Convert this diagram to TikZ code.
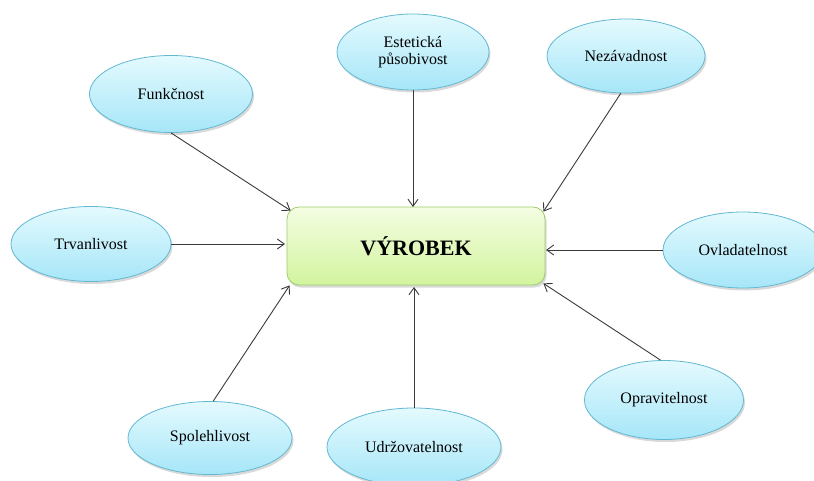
\documentclass[tikz,border=0pt]{standalone}
\usepackage{fontspec}
\setmainfont{Liberation Serif}
\usetikzlibrary{shapes.geometric,arrows.meta,shadows,calc}

\definecolor{elltop}{HTML}{E4FAFE}
\definecolor{ellbot}{HTML}{A6E6F8}
\definecolor{elledge}{HTML}{62B8D2}
\definecolor{boxtop}{HTML}{F4FDE2}
\definecolor{boxbot}{HTML}{D2F49E}
\definecolor{boxedge}{HTML}{9ECB6C}
\definecolor{linkcol}{HTML}{3A3A3A}

\tikzset{
  quality/.style={ellipse, draw=elledge, line width=0.8pt,
    top color=elltop, bottom color=ellbot,
    minimum width=160pt, minimum height=76pt, inner sep=0pt,
    align=center, font=\fontsize{16}{17}\selectfont,
    drop shadow={opacity=0.3, shadow xshift=1.5pt, shadow yshift=-2.5pt}},
  product/.style={rectangle, rounded corners=12pt, draw=boxedge, line width=0.8pt,
    top color=boxtop, bottom color=boxbot,
    minimum width=258pt, minimum height=78pt, inner sep=0pt,
    font=\fontsize{22}{24}\selectfont\bfseries,
    drop shadow={opacity=0.3, shadow xshift=1.5pt, shadow yshift=-2.5pt}},
  link/.style={draw=linkcol, line width=0.9pt,
    -{Straight Barb[length=7pt, width=10pt, line width=0.9pt]}}
}

\begin{document}
\begin{tikzpicture}[x=1pt, y=1pt]
  \useasboundingbox (0,0) rectangle (814,480);
  \clip (0,0) rectangle (814,480);

  % central box
  \node[product] (box) at (416,234) {VÝROBEK};

  % surrounding qualities
  \node[quality, minimum width=163pt, minimum height=77pt] (funk)  at (171,386) {Funkčnost};
  \node[quality, minimum width=152pt] (estet) at (413,428) {Estetická\\působivost};
  \node[quality, minimum width=158pt, minimum height=74pt] (nez)   at (626,424) {Nezávadnost};
  \node[quality, minimum height=75pt] (trv)   at (91,236)  {Trvanlivost};
  \node[quality] (ovl)   at (743,230) {Ovladatelnost};
  \node[quality, minimum width=159pt, minimum height=79pt] (opr)   at (664,80)  {Opravitelnost};
  \node[quality, minimum width=174pt, minimum height=78pt] (udr)   at (414,33)  {Udržovatelnost};
  \node[quality, minimum width=164pt, minimum height=73pt] (spol)  at (210,42)  {Spolehlivost};

  % arrow targets on the box
  \coordinate (tFunk)  at ($(box.north west)+(4,-4)$);
  \coordinate (tEstet) at (413,273);
  \coordinate (tNez)   at ($(box.north east)+(-2,-5)$);
  \coordinate (tTrv)   at (285,236);
  \coordinate (tOvl)   at (546,230);
  \coordinate (tOpr)   at ($(box.south east)+(-2,2)$);
  \coordinate (tUdr)   at (414,193);
  \coordinate (tSpol)  at ($(box.south west)+(3,0)$);

  % connectors
  \draw[link] (funk.south) -- (tFunk);
  \draw[link] (estet.south) -- (tEstet);
  \draw[link] (nez.262) -- (tNez);
  \draw[link] (trv.east) -- (tTrv);
  \draw[link] (ovl.west) -- (tOvl);
  \draw[link] (opr.95) -- (tOpr);
  \draw[link] (udr.north) -- (tUdr);
  \draw[link] (spol.85) -- (tSpol);
\end{tikzpicture}
\end{document}
